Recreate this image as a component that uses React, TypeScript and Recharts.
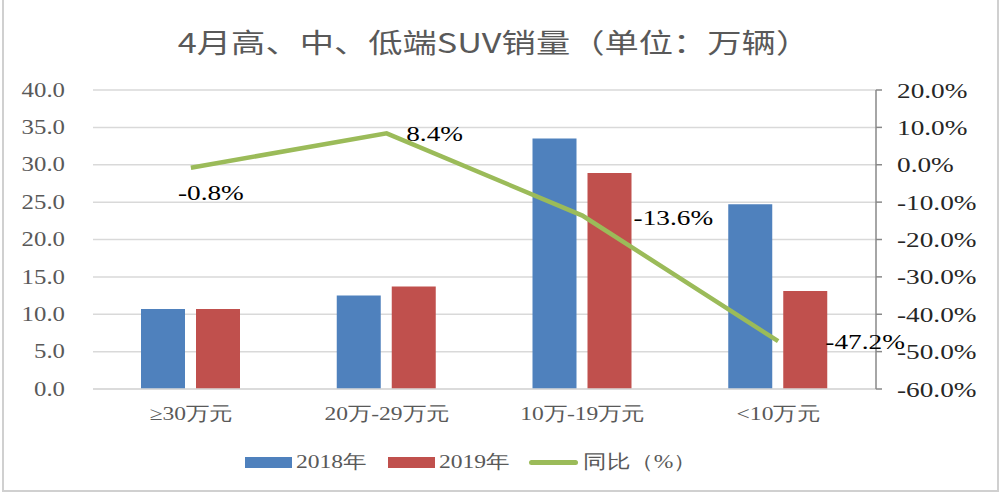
import React from 'react';
import { ComposedChart, Bar, Line, XAxis, YAxis, CartesianGrid, LabelList } from 'recharts';

const categories = ['≥30万元', '20万-29万元', '10万-19万元', '<10万元'];
const sales2018 = [10.7, 12.5, 33.5, 24.7];
const sales2019 = [10.7, 13.7, 28.9, 13.1];
const yoy = [-0.8, 8.4, -13.6, -47.2];
const leftTicks = [0, 5, 10, 15, 20, 25, 30, 35, 40];
const rightTicks = [-60, -50, -40, -30, -20, -10, 0, 10, 20];

const data = categories.map((name, i) => ({
  name,
  y2018: sales2018[i],
  y2019: sales2019[i],
  yoy: yoy[i],
}));

// label placement relative to each line point
const labelOffsets = [
  { dx: 20, dy: 25 },
  { dx: 48, dy: 0 },
  { dx: 91, dy: 2 },
  { dx: 87, dy: 0 },
];

const serif = "'Liberation Serif', 'DejaVu Serif', serif";
const axisColor = '#595959';
const STRETCH = 1.24; // the source picture is stretched sideways

function Stretched(props: any) {
  const { x, y, anchor = 'middle', size = 20, fill = axisColor, family = serif, children } = props;
  return (
    <text
      transform={`translate(${x},${y}) scale(${STRETCH},1)`}
      x={0}
      y={0}
      textAnchor={anchor}
      dominantBaseline="central"
      fontSize={size}
      fontFamily={family}
      fill={fill}
    >
      {children}
    </text>
  );
}

function LeftTick(props: any) {
  const { x, y, payload } = props;
  return <Stretched x={x} y={y} anchor="end" size={20}>{Number(payload.value).toFixed(1)}</Stretched>;
}

function RightTick(props: any) {
  const { x, y, payload } = props;
  return (
    <Stretched x={x} y={y} anchor="start" size={22} fill="#262626">
      {Number(payload.value).toFixed(1) + '%'}
    </Stretched>
  );
}

function CategoryTick(props: any) {
  const { x, payload } = props;
  return <Stretched x={x} y={414} size={19}>{payload.value}</Stretched>;
}

function YoyLabel(props: any) {
  const { x, y, value, index } = props;
  const off = labelOffsets[index] || { dx: 0, dy: 0 };
  return (
    <Stretched x={x + off.dx} y={y + off.dy} size={22} fill="#000">
      {Number(value).toFixed(1)}%
    </Stretched>
  );
}

function ChartLegend() {
  const label = (left: number, text: string) => (
    <span
      style={{
        position: 'absolute',
        left,
        top: 0,
        lineHeight: '28px',
        fontSize: 19,
        fontFamily: serif,
        color: axisColor,
        whiteSpace: 'nowrap',
        transform: `scaleX(${STRETCH})`,
        transformOrigin: 'left center',
      }}
    >
      {text}
    </span>
  );
  return (
    <div style={{ position: 'absolute', top: 448, left: 0, width: 1000, height: 28 }}>
      <div style={{ position: 'absolute', left: 245, top: 9, width: 47, height: 11, background: '#4F81BD' }} />
      {label(296, '2018年')}
      <div style={{ position: 'absolute', left: 388, top: 9, width: 47, height: 11, background: '#C0504D' }} />
      {label(439, '2019年')}
      <div style={{ position: 'absolute', left: 529, top: 12, width: 49, height: 5, borderRadius: 3, background: '#9BBB59' }} />
      {label(583, '同比（%）')}
    </div>
  );
}

export default function App() {
  return (
    <div style={{ position: 'absolute', left: 0, top: 0, width: 1000, height: 495, background: '#fff' }}>
      <div
        style={{
          position: 'absolute',
          top: 22,
          left: 494,
          whiteSpace: 'nowrap',
          fontSize: 27,
          color: axisColor,
          fontFamily: "'Noto Sans CJK SC', sans-serif",
          lineHeight: '40px',
          transform: `translateX(-50%) scaleX(1.27)`,
          transformOrigin: 'center',
        }}
      >
        4月高、中、低端SUV销量（单位：万辆）
      </div>
      <ComposedChart
        width={1000}
        height={495}
        data={data}
        margin={{ top: 90, right: 0, left: 0, bottom: 66 }}
        barSize={44}
        barGap={11}
      >
        <CartesianGrid yAxisId="left" vertical={false} stroke="#d9d9d9" strokeWidth={1.5} />
        <XAxis
          dataKey="name"
          height={40}
          axisLine={{ stroke: '#d9d9d9', strokeWidth: 1.5 }}
          tickLine={false}
          tick={<CategoryTick />}
        />
        <YAxis
          yAxisId="left"
          width={93}
          domain={[0, 40]}
          ticks={leftTicks}
          axisLine={false}
          tickLine={false}
          tickSize={0}
          tickMargin={28}
          tick={<LeftTick />}
        />
        <YAxis
          yAxisId="right"
          orientation="right"
          width={124}
          domain={[-60, 20]}
          ticks={rightTicks}
          axisLine={{ stroke: '#888', strokeWidth: 1.5 }}
          tickLine={{ stroke: '#888', strokeWidth: 1.5 }}
          tickSize={6}
          tickMargin={15}
          tick={<RightTick />}
        />
        <Bar yAxisId="left" dataKey="y2018" name="2018年" fill="#4F81BD" isAnimationActive={false} />
        <Bar yAxisId="left" dataKey="y2019" name="2019年" fill="#C0504D" isAnimationActive={false} />
        <Line
          yAxisId="right"
          type="linear"
          dataKey="yoy"
          name="同比（%）"
          stroke="#9BBB59"
          strokeWidth={4.5}
          dot={false}
          isAnimationActive={false}
        >
          <LabelList dataKey="yoy" content={<YoyLabel />} />
        </Line>
      </ComposedChart>
      <ChartLegend />
      <div
        style={{
          position: 'absolute',
          left: 2,
          top: 0,
          width: 993,
          height: 490,
          borderLeft: '2px solid #d0d0d0',
          borderRight: '2px solid #d0d0d0',
          borderBottom: '2px solid #d0d0d0',
          pointerEvents: 'none',
        }}
      />
    </div>
  );
}
